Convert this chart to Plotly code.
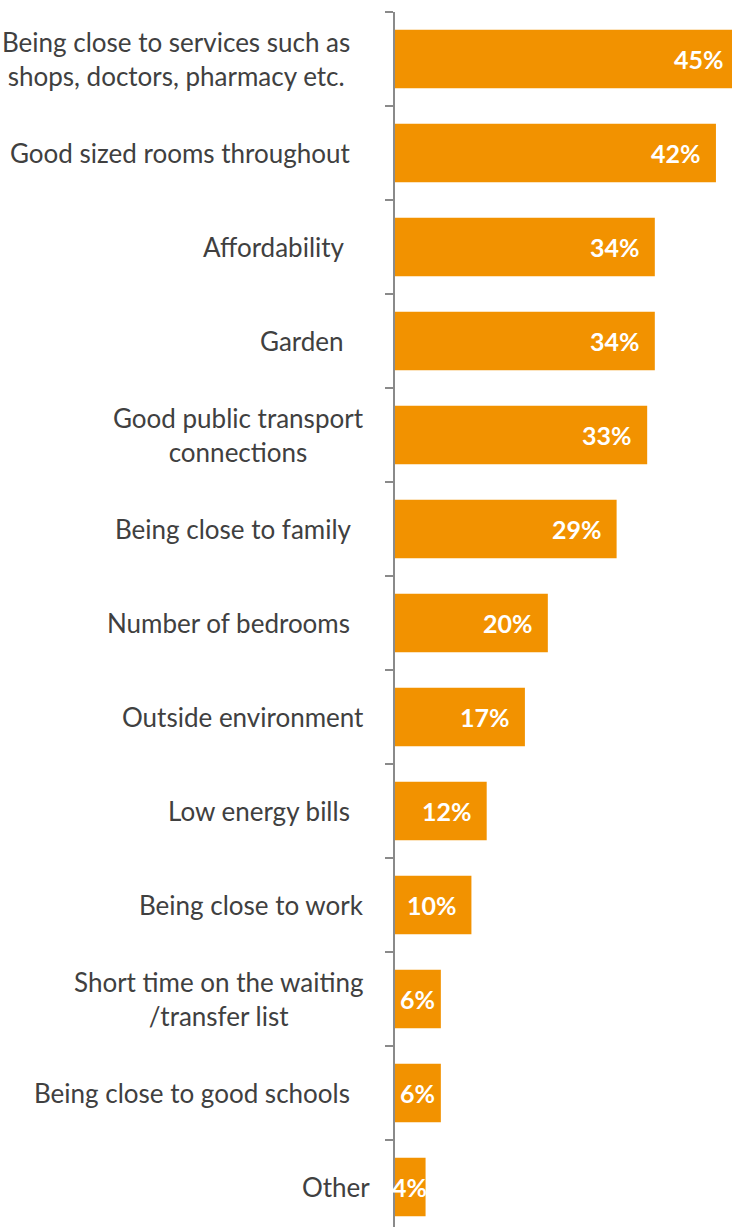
import plotly.graph_objects as go

categories = [
    "Being close to services such as<br>shops, doctors, pharmacy etc.",
    "Good sized rooms throughout",
    "Affordability",
    "Garden",
    "Good public transport<br>connections",
    "Being close to family",
    "Number of bedrooms",
    "Outside environment",
    "Low energy bills",
    "Being close to work",
    "Short time on the waiting<br>/transfer list",
    "Being close to good schools",
    "Other",
]
# trailing padding (non-breaking spaces) carried by each label
label_pad = [3, 3, 4, 4, 1, 3, 3, 1, 3, 1, 1, 3, 0]
values = [45, 42, 34, 34, 33, 29, 20, 17, 12, 10, 6, 6, 4]

BAR_COLOR = "#F29200"
AXIS_COLOR = "#8A8A8A"
TEXT_COLOR = "#404040"
FONT = "Lato"

W, H = 732, 1227
ML, MT = 395, 12
XMAX = 44.1
BAND = 94.0
plot_h = H - MT
y_bottom = -0.5 + plot_h / BAND

idx = list(range(len(categories)))

fig = go.Figure(go.Bar(
    x=values,
    y=idx,
    orientation="h",
    marker=dict(color=BAR_COLOR, line=dict(width=0)),
    width=0.62,
    hoverinfo="skip",
))

annotations = []
px_per_unit = (W - ML) / XMAX
for i, (cat, pad, v) in enumerate(zip(categories, label_pad, values)):
    sp = "\u00a0" * pad
    text = "<br>".join(line + sp for line in cat.split("<br>"))
    annotations.append(dict(
        text=text, xref="paper", x=0, xanchor="right", xshift=-23,
        yref="y", y=i, yanchor="middle", align="center", showarrow=False,
        font=dict(family=FONT, size=26, color=TEXT_COLOR),
    ))
    label = f"{v}%"
    bar_len = v * px_per_unit
    text_w = 14 * (len(label) - 1) + 20
    inset = min(13, (bar_len - text_w) / 2 - 2)
    annotations.append(dict(
        text=f"<b>{label}</b>", xref="paper", x=v / XMAX, xanchor="right",
        xshift=-inset, yref="y", y=i, yanchor="middle", showarrow=False,
        font=dict(family=FONT, size=25, color="white"),
    ))

fig.update_layout(
    width=W, height=H,
    margin=dict(l=ML, r=0, t=MT, b=0, pad=0),
    paper_bgcolor="white", plot_bgcolor="white",
    showlegend=False,
    annotations=annotations,
    xaxis=dict(range=[0, XMAX], visible=False, fixedrange=True),
    yaxis=dict(
        type="linear",
        range=[y_bottom, -0.5],
        showticklabels=False,
        showgrid=False,
        zeroline=False,
        showline=True, linecolor=AXIS_COLOR, linewidth=2,
        ticks="outside", ticklen=8, tickwidth=2, tickcolor=AXIS_COLOR,
        tickmode="linear", tick0=-0.5, dtick=1,
        fixedrange=True,
    ),
)

fig.write_html("out.html")
